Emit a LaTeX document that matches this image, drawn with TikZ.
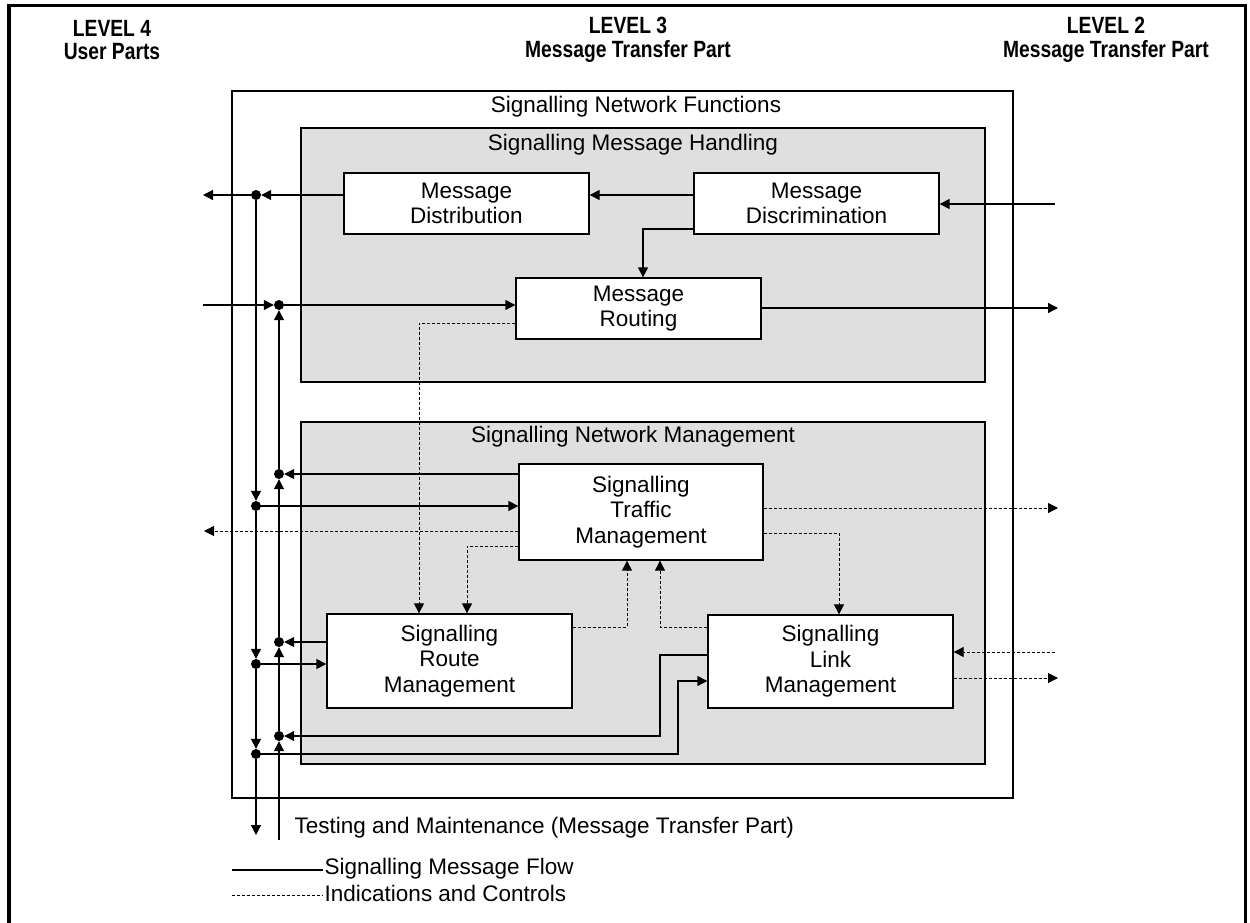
\documentclass[tikz,border=0pt]{standalone}
\usepackage{fontspec}
\setmainfont{Liberation Sans}
\newfontfamily\hdrfont[FakeStretch=0.82]{Liberation Sans}
\usetikzlibrary{arrows.meta}
\definecolor{panelgray}{HTML}{DFDFDF}
\tikzset{
  flow/.style={line width=1.3pt},
  ctrl/.style={line width=1pt, dash pattern=on 3pt off 2pt},
  frame/.style={draw, line width=1.3pt},
  panel/.style={draw, line width=1.3pt, fill=panelgray},
  box/.style={draw, line width=1.3pt, fill=white, align=center, inner sep=0pt,
              minimum width=245pt},
  hdr/.style={align=center, font=\hdrfont\bfseries\fontsize{23.5}{23.5}\selectfont},
  junction/.style={circle, fill=black, inner sep=0pt, minimum size=10pt},
  legtext/.style={anchor=west, inner sep=1.5pt}
}
\begin{document}
\begin{tikzpicture}[x=1pt, y=-1pt, font=\fontsize{22.5}{25.5}\selectfont,
  >={Triangle[length=10pt,width=10pt]}]
\useasboundingbox (0,0) rectangle (1250,922);

% outer frame, open at the bottom
\draw[line width=3.5pt] (9,930) -- (9,5.5) -- (1245.5,5.5) -- (1245.5,930);

% level headings
\node[hdr] (lv4) at (112,40) {LEVEL 4\\User Parts};
\node[hdr] (lv3) at (628,40) {LEVEL 3\\Message Transfer Part};
\node[hdr] (lv2) at (1106,40) {LEVEL 2\\Message Transfer Part};

% signalling network functions and its two panels
\draw[frame] (232,91) rectangle (1013,798);
\node (tSNF) at (636,107) {Signalling Network Functions};
\draw[panel] (301,128) rectangle (985,382);
\node (tSMH) at (633,145) {Signalling Message Handling};
\draw[panel] (301,422) rectangle (985,764);
\node (tSNM) at (633,437) {Signalling Network Management};

% function blocks
\node[box, minimum height=61pt] (dist) at (466.5,203.5) {Message\\Distribution};
\node[box, minimum height=61pt] (disc) at (816.5,203.5) {Message\\Discrimination};
\node[box, minimum height=61pt] (rout) at (638.5,308.5) {Message\\Routing};
\node[box, minimum width=244pt, minimum height=96pt] (traf) at (641,512) {Signalling\\Traffic\\Management};
\node[box, minimum height=94pt] (route) at (449.5,661) {Signalling\\Route\\Management};
\node[box, minimum height=93pt] (link) at (830.5,661.5) {Signalling\\Link\\Management};

% junctions on the two level-4 buses
\node[junction] (a1) at (256,195) {};
\node[junction] (a2) at (256,506) {};
\node[junction] (a3) at (256,664) {};
\node[junction] (a4) at (256,754) {};
\node[junction] (b1) at (279,305) {};
\node[junction] (b2) at (279,474) {};
\node[junction] (b3) at (279,642) {};
\node[junction] (b4) at (279,736) {};

% free ends and bends
\coordinate (L1) at (203,195);
\coordinate (L2) at (203,305);
\coordinate (L3) at (204,531);
\coordinate (aEnd) at (256,835);
\coordinate (bStart) at (279,840);
\coordinate (R1) at (1055,204);
\coordinate (R2) at (1058,308);
\coordinate (R3) at (1058,508);
\coordinate (R4) at (1055,652);
\coordinate (R5) at (1058,678);
\coordinate (k1) at (660,736);
\coordinate (k2) at (678,754);

% buses
\draw[flow,->] (a1) -- (a2);
\draw[flow,->] (a2) -- (a3);
\draw[flow,->] (a3) -- (a4);
\draw[flow,->] (a4) -- (aEnd);
\draw[flow,->] (bStart) -- (b4);
\draw[flow,->] (b4) -- (b3);
\draw[flow,->] (b3) -- (b2);
\draw[flow,->] (b2) -- (b1);

% message handling
\draw[flow,->] (dist.west |- a1) -- (a1);
\draw[flow,->] (a1) -- (L1);
\draw[flow,->] (L2) -- (b1);
\draw[flow,->] (b1) -- (rout.west |- b1);
\draw[flow,->] (disc.west |- a1) -- (dist.east |- a1);
\draw[flow,->] ([yshift=-25.5pt]disc.west) -| ([xshift=4.5pt]rout.north);
\draw[flow,->] (R1) -- (disc.east |- R1);
\draw[flow,->] (rout.east |- R2) -- (R2);
\draw[ctrl,->] ([yshift=-14.5pt]rout.west) -| ([xshift=-30.5pt]route.north);

% traffic management
\draw[flow,->] (traf.west |- b2) -- (b2);
\draw[flow,->] (a2) -- (traf.west |- a2);
\draw[ctrl,->] (traf.west |- L3) -- (L3);
\draw[ctrl,->] ([yshift=-34pt]traf.west) -| ([xshift=17.5pt]route.north);
\draw[ctrl,->] (traf.east |- R3) -- (R3);
\draw[ctrl,->] ([yshift=-21pt]traf.east) -| ([xshift=8.5pt]link.north);

% route management
\draw[ctrl,->] ([yshift=34pt]route.east) -| ([xshift=-14pt]traf.south);
\draw[flow,->] (route.west |- b3) -- (b3);
\draw[flow,->] (a3) -- (route.west |- a3);

% link management
\draw[ctrl,->] ([yshift=34.5pt]link.west) -| ([xshift=19pt]traf.south);
\draw[flow,->] ([yshift=6.5pt]link.west) -| (k1) -- (b4);
\draw[flow,->] (a4) -- (k2) |- ([yshift=-19.5pt]link.west);
\draw[ctrl,->] (R4) -- (link.east |- R4);
\draw[ctrl,->] (link.east |- R5) -- (R5);

% testing and maintenance, legend
\node[anchor=west] (tm) at (291,828) {Testing and Maintenance (Message Transfer Part)};
\node[legtext] (lg1) at (323,869) {Signalling Message Flow};
\node[legtext] (lg2) at (323,893) {Indications and Controls};
\coordinate (lg1a) at (232,870);
\coordinate (lg2a) at (232,895.5);
\draw[flow] (lg1a) -- (lg1a -| lg1.west);
\draw[ctrl] (lg2a) -- (lg2a -| lg2.west);
\end{tikzpicture}
\end{document}
